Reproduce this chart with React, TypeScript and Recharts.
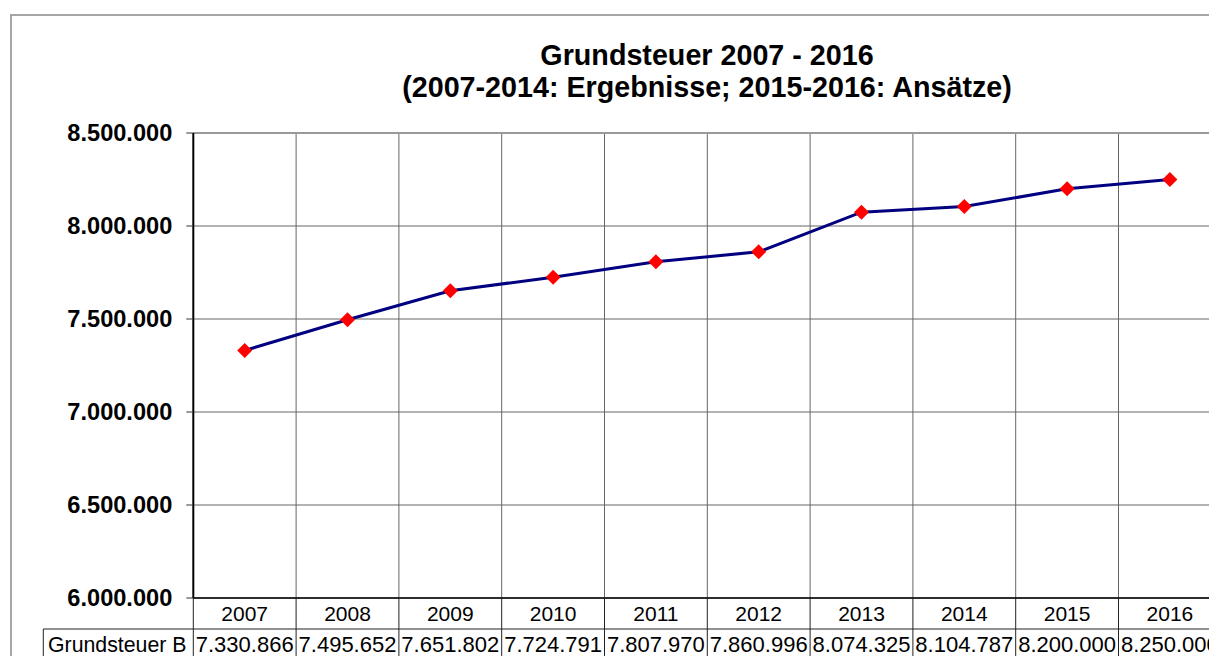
import React from 'react';
import { LineChart, Line, XAxis, YAxis, CartesianGrid, ReferenceLine } from 'recharts';

const years = ['2007', '2008', '2009', '2010', '2011', '2012', '2013', '2014', '2015', '2016'];
const grundsteuerB = [7330866, 7495652, 7651802, 7724791, 7807970, 7860996, 8074325, 8104787, 8200000, 8250000];
const yTicks = [6000000, 6500000, 7000000, 7500000, 8000000, 8500000];
const seriesName = 'Grundsteuer B';
const titleLines = ['Grundsteuer 2007 - 2016', '(2007-2014: Ergebnisse; 2015-2016: Ansätze)'];

const data = years.map((y, i) => ({ year: y, value: grundsteuerB[i] }));

const CHART_W = 1240;
const CHART_H = 660;
const MARGIN = { top: 133, right: 18.7, left: 0, bottom: 0 };
const YAXIS_W = 193.3;
const PLOT_W = CHART_W - MARGIN.left - MARGIN.right - YAXIS_W;
const BAND = PLOT_W / years.length;
const FONT = '"Liberation Sans", Arial, sans-serif';

const fmt = (v: number) => String(Math.round(v)).replace(/\B(?=(\d{3})+(?!\d))/g, '.');

const Diamond = (props: any) => {
  const { cx, cy } = props;
  if (cx == null || cy == null) return null;
  const r = 7.5;
  return (
    <polygon
      points={`${cx},${cy - r} ${cx + r},${cy} ${cx},${cy + r} ${cx - r},${cy}`}
      fill="#ff0000"
      stroke="none"
    />
  );
};

const TableTick = (props: any) => {
  const { x, y, payload, index } = props;
  const i = index ?? years.indexOf(payload.value);
  const left = x - BAND / 2;
  const right = x + BAND / 2;
  const rowLine = y + 31;
  const bottom = y + 90;
  return (
    <g>
      <line x1={right} y1={y} x2={right} y2={bottom} stroke="#222" strokeWidth={1} />
      {i === 0 && <line x1={left} y1={y} x2={left} y2={bottom} stroke="#222" strokeWidth={1} />}
      <line x1={i === 0 ? 43.3 : left} y1={rowLine} x2={right} y2={rowLine} stroke="#222" strokeWidth={1} />
      {i === 0 && <line x1={43.3} y1={rowLine} x2={43.3} y2={bottom} stroke="#222" strokeWidth={1} />}
      {i === 0 && (
        <text x={48} y={y + 54} fontSize={21.3} fill="#000" fontFamily={FONT} textAnchor="start">
          {seriesName}
        </text>
      )}
      <text x={x} y={y + 23} fontSize={21} fill="#000" fontFamily={FONT} textAnchor="middle">
        {payload.value}
      </text>
      <text x={x} y={y + 54} fontSize={22} fill="#000" fontFamily={FONT} textAnchor="middle">
        {fmt(grundsteuerB[i])}
      </text>
    </g>
  );
};

export default function App() {
  return (
    <div
      style={{
        position: 'absolute',
        left: 0,
        top: 0,
        width: 1209,
        height: 656,
        overflow: 'hidden',
        background: '#fff',
        fontFamily: FONT,
      }}
    >
      <div
        style={{
          position: 'absolute',
          left: 9.5,
          top: 13.5,
          width: 1400,
          height: 800,
          border: '2px solid #a6a6a6',
          boxSizing: 'border-box',
        }}
      />
      <div style={{ position: 'absolute', left: 0, top: 0 }}>
        <LineChart width={CHART_W} height={CHART_H} data={data} margin={MARGIN}>
          <CartesianGrid
            stroke="#666"
            strokeWidth={1}
            verticalCoordinatesGenerator={(p: any) => {
              const off = p.offset;
              return years.map((_, k) => off.left + ((k + 1) * off.width) / years.length);
            }}
          />
          <XAxis
            dataKey="year"
            type="category"
            padding={{ left: BAND / 2, right: BAND / 2 }}
            height={CHART_H - MARGIN.top - 465}
            tickSize={0}
            tickMargin={0}
            tickLine={false}
            axisLine={{ stroke: '#000', strokeWidth: 1.5 }}
            tick={<TableTick />}
            interval={0}
          />
          <YAxis
            type="number"
            domain={[6000000, 8500000]}
            ticks={yTicks}
            width={YAXIS_W}
            tickSize={7}
            tickMargin={14}
            tickFormatter={fmt}
            axisLine={{ stroke: '#000', strokeWidth: 2 }}
            tickLine={{ stroke: '#333', strokeWidth: 1 }}
            tick={{ fill: '#000', fontSize: 23.6, fontWeight: 'bold', fontFamily: FONT }}
            allowDataOverflow
          />
          <ReferenceLine y={8500000} stroke="#999" strokeWidth={2} ifOverflow="extendDomain" />
          <Line
            dataKey="value"
            stroke="#000080"
            strokeWidth={3}
            dot={<Diamond />}
            activeDot={false}
            isAnimationActive={false}
            type="linear"
          />
        </LineChart>
      </div>
      <svg
        width={1209}
        height={120}
        style={{ position: 'absolute', left: 0, top: 0, pointerEvents: 'none' }}
      >
        <text x={707} y={65} textAnchor="middle" fontSize={28.7} fontWeight="bold" fontFamily={FONT} fill="#000">
          {titleLines[0]}
        </text>
        <text x={707} y={97} textAnchor="middle" fontSize={28.7} fontWeight="bold" fontFamily={FONT} fill="#000">
          {titleLines[1]}
        </text>
      </svg>
    </div>
  );
}
